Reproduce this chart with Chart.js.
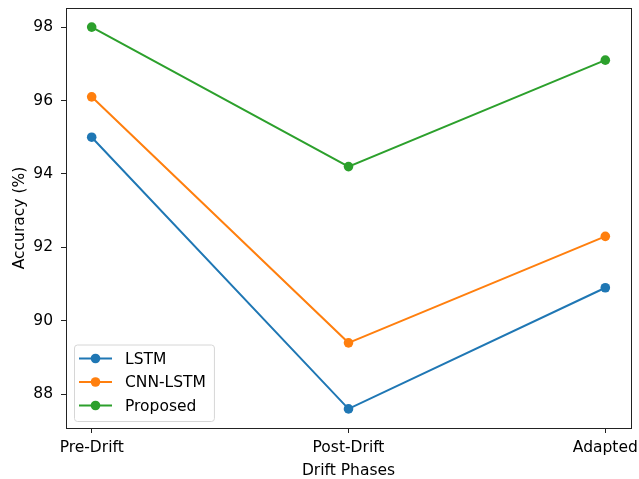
<!DOCTYPE html>
<html>
<head>
<meta charset="utf-8">
<script src="https://cdn.jsdelivr.net/npm/chart.js@4/dist/chart.umd.min.js"></script>
<style>
  html, body { margin: 0; padding: 0; background: #fff; }
  #wrap { width: 639px; height: 479px; }
</style>
</head>
<body>
<div id="wrap"><canvas id="drift-chart" width="639" height="479"></canvas></div>
<script>
// categories and accuracy values
const phases = ["Pre-Drift", "Post-Drift", "Adapted"];
const lstm = [95.0, 87.6, 90.9];
const cnnLstm = [96.1, 89.4, 92.3];
const proposed = [98.0, 94.2, 97.1];
const seriesNames = ["LSTM", "CNN-LSTM", "Proposed"];
const yTicks = [88, 90, 92, 94, 96, 98];

const FONT = "'DejaVu Sans', sans-serif";
const FSIZE = 15.5;

function getColor(name){
  if(name === "LSTM") return '#1f77b4'
  if(name === "CNN-LSTM") return '#ff7f0e'
  if(name === "Proposed") return '#2ca02c'
}

const allSeries = [lstm, cnnLstm, proposed];

// box around the plot + matplotlib style legend in lower left
const framePlugin = {
  id: 'frame',
  afterDatasetsDraw(chart){
    const ctx = chart.ctx;
    const a = chart.chartArea;
    ctx.save();
    ctx.strokeStyle = '#222';
    ctx.lineWidth = 1;
    ctx.strokeRect(Math.round(a.left) + 0.5, Math.round(a.top) + 0.5, Math.round(a.right - a.left), Math.round(a.bottom - a.top));

    // legend
    ctx.font = FSIZE + 'px ' + FONT;
    const labels = chart.data.datasets.map(d => d.label);
    const textW = Math.max(...labels.map(l => ctx.measureText(l).width));
    const rowH = 23.5;
    const boxX = a.left + 8, boxW = 51 + textW + 8;
    const boxH = rowH * labels.length + 6;
    const boxY = a.bottom - 7 - boxH;
    ctx.fillStyle = 'rgba(255,255,255,0.8)';
    ctx.strokeStyle = '#d6d6d6';
    ctx.beginPath();
    ctx.roundRect(boxX + 0.5, boxY + 0.5, boxW, boxH, 3);
    ctx.fill();
    ctx.stroke();
    chart.data.datasets.forEach((d, i) => {
      const cy = boxY + 14 + i * rowH;
      const x0 = boxX + 5, x1 = x0 + 33;
      ctx.strokeStyle = d.borderColor;
      ctx.lineWidth = 2;
      ctx.beginPath();
      ctx.moveTo(x0, cy);
      ctx.lineTo(x1, cy);
      ctx.stroke();
      ctx.fillStyle = d.borderColor;
      ctx.beginPath();
      ctx.arc((x0 + x1) / 2, cy, 4.8, 0, Math.PI * 2);
      ctx.fill();
      ctx.fillStyle = '#000';
      ctx.textBaseline = 'middle';
      ctx.textAlign = 'left';
      ctx.fillText(d.label, x1 + 13, cy + 1);
    });
    ctx.restore();
  }
};

const ctx = document.querySelector('#drift-chart').getContext('2d');
var myChart = new Chart(ctx, {
  type: 'line',
  data: {
    datasets: seriesNames.map((name, s) => ({
      label: name,
      data: allSeries[s].map((v, i) => ({x: i, y: v})),
      borderColor: getColor(name),
      backgroundColor: getColor(name),
      borderWidth: 2,
      pointRadius: 4.8,
      pointHoverRadius: 4.8,
      pointBorderWidth: 0,
      tension: 0,
      fill: false
    }))
  },
  options: {
    responsive: false,
    animation: false,
    events: [],
    layout: { padding: { top: 8, right: 8, left: 0, bottom: 0 } },
    plugins: { legend: { display: false }, tooltip: { enabled: false } },
    scales: {
      x: {
        type: 'linear',
        min: -0.1,
        max: 2.1,
        afterBuildTicks: (scale) => { scale.ticks = phases.map((p, i) => ({value: i})); },
        afterFit: (scale) => { scale.height = 51; scale.paddingLeft = 0; scale.paddingRight = 0; },
        ticks: {
          callback: (v) => phases[v],
          color: '#000',
          font: { family: FONT, size: FSIZE },
          padding: 6,
          maxRotation: 0,
          autoSkip: false
        },
        grid: { display: true, drawOnChartArea: false, drawTicks: true, tickLength: 5, color: '#222' },
        border: { display: false },
        title: { display: true, text: 'Drift Phases', color: '#000', font: { family: FONT, size: FSIZE }, padding: { top: 0, bottom: -1 } }
      },
      y: {
        min: 87.08,
        max: 98.52,
        afterBuildTicks: (scale) => { scale.ticks = yTicks.map(v => ({value: v})); },
        afterFit: (scale) => { scale.width = 66; scale.paddingTop = 0; scale.paddingBottom = 0; },
        ticks: {
          color: '#000',
          font: { family: FONT, size: FSIZE },
          padding: 8
        },
        grid: { display: true, drawOnChartArea: false, drawTicks: true, tickLength: 5, color: '#222' },
        border: { display: false },
        title: { display: true, text: 'Accuracy (%)', color: '#000', font: { family: FONT, size: FSIZE }, padding: { top: 10.5, bottom: 0 } }
      }
    }
  },
  plugins: [framePlugin]
});
</script>
</body>
</html>
